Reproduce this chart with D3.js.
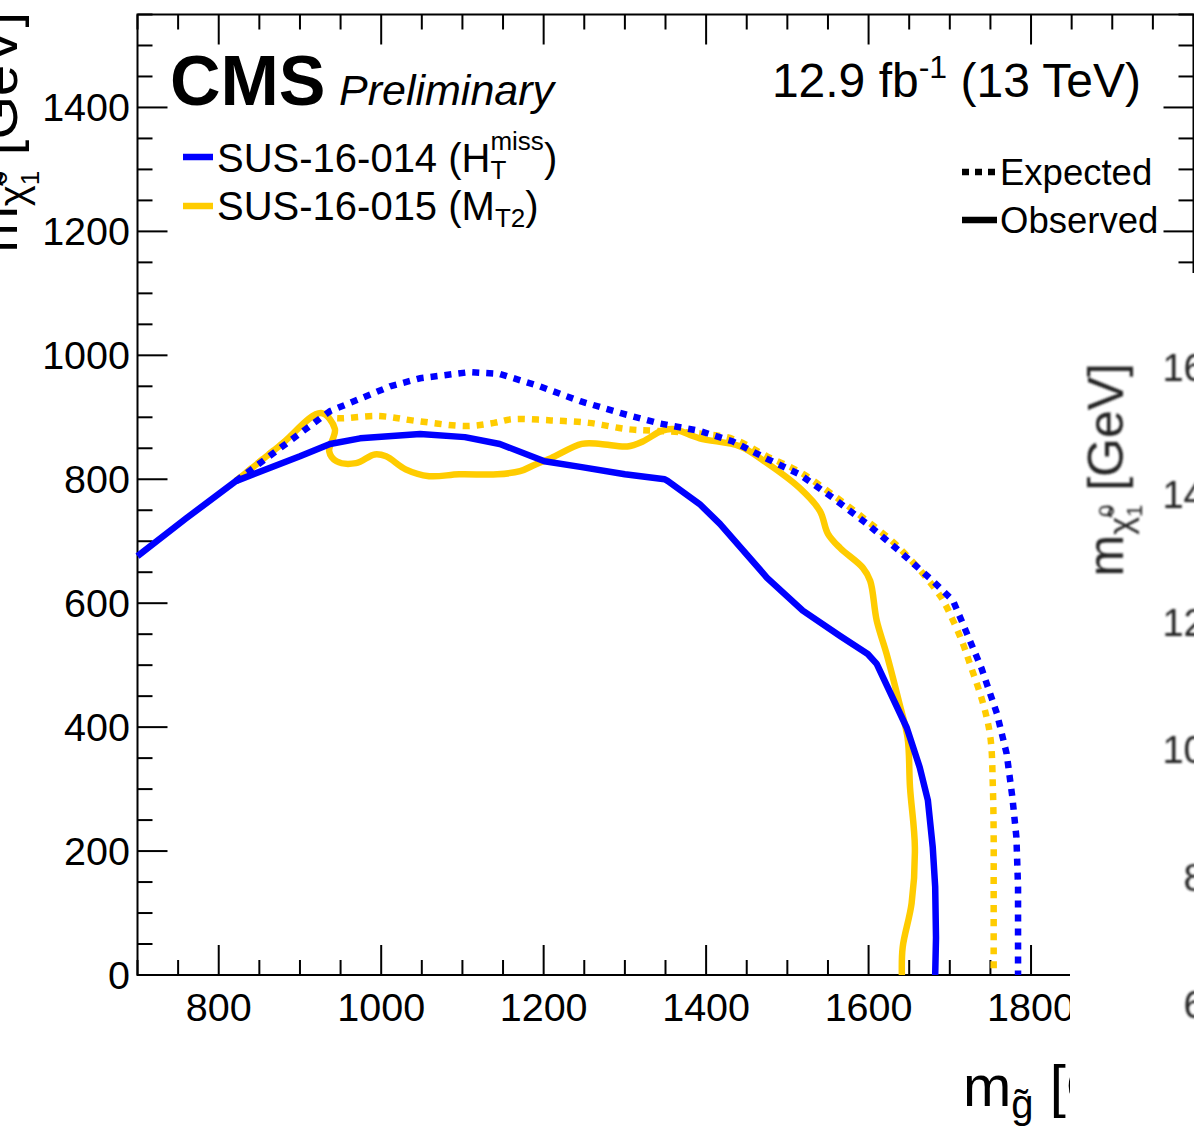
<!DOCTYPE html>
<html>
<head>
<meta charset="utf-8">
<script src="https://cdn.jsdelivr.net/npm/d3@7"></script>
<style>
  html, body { margin: 0; padding: 0; background: #fff; }
  svg { display: block; }
  svg text { white-space: pre; }
</style>
</head>
<body>
<svg id="chart" width="1194" height="1128"></svg>
<script>
// Gluino mass vs LSP mass exclusion contours (T1qqqq-like interpretation)

// axis ranges and tick labels
const massRange = [700, 2000];
const lspRange = [0, 1550];
const xTickLabels = [800, 1000, 1200, 1400, 1600, 1800];
const yTickLabels = [0, 200, 400, 600, 800, 1000, 1200, 1400];
const insetTickLabels = [1600, 1400, 1200, 1000, 800, 600];

// SUS-16-014 (H_T^miss) contours: [gluino mass, LSP mass] in GeV
const sus014Observed = [
  [700, 676], [760, 737], [821, 797], [900, 837], [937, 857], [974, 866],
  [1048, 873], [1103, 868], [1146, 857], [1201, 829], [1245, 820],
  [1300, 808], [1349, 800], [1353, 797], [1392, 760], [1417, 728],
  [1475, 641], [1519, 588], [1565, 547], [1599, 518], [1610, 502],
  [1647, 399], [1663, 335], [1673, 282], [1679, 206], [1682, 142],
  [1683, 60], [1682, 0]
];
const sus014Expected = [
  [821, 797], [937, 910], [1011, 950], [1048, 963], [1109, 973],
  [1146, 970], [1195, 950], [1245, 926], [1294, 907], [1343, 890],
  [1392, 878], [1433, 861], [1475, 833], [1515, 808], [1556, 770],
  [1598, 728], [1638, 684], [1679, 636], [1704, 604], [1716, 567],
  [1739, 495], [1758, 422], [1770, 357], [1777, 287], [1782, 222],
  [1784, 142], [1784, 0]
];

// SUS-16-015 (M_T2) contours
const sus015Observed = [
  [821, 797], [875, 854], [926, 907], [943, 881], [936, 845], [945, 829],
  [969, 826], [992, 840], [1006, 837], [1030, 816], [1059, 805],
  [1096, 808], [1143, 808], [1171, 813], [1190, 824], [1209, 834],
  [1247, 857], [1270, 857], [1303, 853], [1322, 861], [1345, 878],
  [1359, 881], [1392, 866], [1442, 853], [1475, 826], [1515, 786],
  [1540, 749], [1550, 712], [1565, 689], [1593, 657], [1602, 636],
  [1610, 572], [1622, 519], [1638, 438], [1648, 383], [1651, 303],
  [1657, 206], [1653, 116], [1642, 45], [1641, 0]
];
const sus015Expected = [
  [821, 797], [875, 854], [928, 906], [941, 899], [997, 902], [1044, 894],
  [1105, 886], [1139, 891], [1162, 897], [1209, 895], [1256, 891],
  [1302, 881], [1340, 878], [1392, 874], [1433, 865], [1475, 837],
  [1515, 812], [1556, 775], [1598, 733], [1638, 689], [1688, 612],
  [1704, 572], [1716, 535], [1724, 505], [1741, 438], [1750, 383],
  [1753, 303], [1754, 222], [1754, 142], [1754, 0]
];

const analyses = ["SUS-16-014", "SUS-16-015"];
const limitTypes = ["Expected", "Observed"];

const BLUE = "#0000ff";
const YELLOW = "#ffcc00";
const FONT = "'Liberation Sans', Arial, Helvetica, sans-serif";

const svg = d3.select("#chart");

const x = d3.scaleLinear().domain(massRange).range([137.5, 1193.5]);
const y = d3.scaleLinear().domain(lspRange).range([975, 14.5]);

// lays out a run of text pieces (with sub/superscripts) left to right
function richText(parent, parts, opt) {
  const g = parent.append("g")
    .attr("transform", `translate(${opt.x},${opt.y}) rotate(${opt.rotate || 0})`);
  const inner = g.append("g");
  let cursor = 0, lastStart = 0;
  parts.forEach(p => {
    const t = inner.append("text")
      .attr("xml:space", "preserve")
      .attr("font-family", FONT)
      .attr("font-size", p.size || opt.size)
      .attr("font-weight", p.weight || opt.weight || "normal")
      .attr("font-style", p.style || opt.style || "normal")
      .attr("fill", opt.fill || "#000")
      .attr("y", p.dy || 0)
      .text(p.text);
    const w = t.node().getComputedTextLength();
    if (p.stack) {
      t.attr("x", lastStart);
      cursor = Math.max(cursor, lastStart + w);
    } else {
      t.attr("x", cursor);
      lastStart = cursor;
      cursor += w;
    }
  });
  if (opt.anchor === "end") inner.attr("transform", `translate(${-cursor},0)`);
  if (opt.anchor === "middle") inner.attr("transform", `translate(${-cursor / 2},0)`);
  return g;
}

// ---- main frame ----
const plot = svg.append("g");

plot.append("rect")
  .attr("x", x.range()[0]).attr("y", y.range()[1])
  .attr("width", x.range()[1] - x.range()[0])
  .attr("height", y.range()[0] - y.range()[1])
  .attr("fill", "none").attr("stroke", "#000").attr("stroke-width", 2);

const xTicks = d3.range(massRange[0], massRange[1] + 1, 50);
const yTicks = d3.range(lspRange[0], lspRange[1] + 1, 50);
const isMajor = v => v % 200 === 0;

const tickG = plot.append("g").attr("stroke", "#000").attr("stroke-width", 2);
xTicks.forEach(v => {
  const len = isMajor(v) ? 30 : 15;
  tickG.append("line").attr("x1", x(v)).attr("x2", x(v))
    .attr("y1", y(0)).attr("y2", y(0) - len);
  tickG.append("line").attr("x1", x(v)).attr("x2", x(v))
    .attr("y1", y.range()[1]).attr("y2", y.range()[1] + len);
});
yTicks.forEach(v => {
  const len = isMajor(v) ? 30 : 15;
  tickG.append("line").attr("x1", x.range()[0]).attr("x2", x.range()[0] + len)
    .attr("y1", y(v)).attr("y2", y(v));
  tickG.append("line").attr("x1", x.range()[1]).attr("x2", x.range()[1] - len)
    .attr("y1", y(v)).attr("y2", y(v));
});

// tick labels
plot.append("g").selectAll("text").data(xTickLabels).join("text")
  .attr("x", d => x(d)).attr("y", 1021)
  .attr("text-anchor", "middle")
  .attr("font-family", FONT).attr("font-size", 39.5)
  .text(d => d);
plot.append("g").selectAll("text").data(yTickLabels).join("text")
  .attr("x", 130).attr("y", d => y(d) + 14)
  .attr("text-anchor", "end")
  .attr("font-family", FONT).attr("font-size", 39.5)
  .text(d => d);

// ---- contours ----
const lineLinear = d3.line().x(d => x(d[0])).y(d => y(d[1]));
const lineSmooth = d3.line().x(d => x(d[0])).y(d => y(d[1]))
  .curve(d3.curveCatmullRom.alpha(0.5));

const curves = plot.append("g").attr("fill", "none").attr("stroke-width", 6.5);
curves.append("path").attr("d", lineSmooth(sus015Expected))
  .attr("stroke", YELLOW).attr("stroke-dasharray", "7 7");
curves.append("path").attr("d", lineSmooth(sus015Observed))
  .attr("stroke", YELLOW).attr("stroke-linejoin", "round");
curves.append("path").attr("d", lineLinear(sus014Expected))
  .attr("stroke", BLUE).attr("stroke-dasharray", "7 7");
curves.append("path").attr("d", lineLinear(sus014Observed))
  .attr("stroke", BLUE).attr("stroke-linejoin", "round");

// ---- labels ----
plot.append("text").attr("x", 170).attr("y", 105)
  .attr("font-family", FONT).attr("font-size", 70).attr("font-weight", "bold")
  .text("CMS");
plot.append("text").attr("x", 339).attr("y", 105)
  .attr("font-family", FONT).attr("font-size", 43).attr("font-style", "italic")
  .text("Preliminary");

richText(plot, [
  { text: "12.9 fb" },
  { text: "-1", size: 32, dy: -19 },
  { text: " (13 TeV)" }
], { x: 1141, y: 97, size: 48, anchor: "end" });

// analysis legend
const legendColors = [BLUE, YELLOW];
const legendY = [157, 206];
legendColors.forEach((c, i) => {
  plot.append("line").attr("x1", 183).attr("x2", 213)
    .attr("y1", legendY[i]).attr("y2", legendY[i])
    .attr("stroke", c).attr("stroke-width", 6.5);
});
richText(plot, [
  { text: analyses[0] + " (H" },
  { text: "miss", size: 26, dy: -22 },
  { text: "T", size: 26, dy: 7, stack: true },
  { text: ")" }
], { x: 217, y: 172, size: 40 });
richText(plot, [
  { text: analyses[1] + " (M" },
  { text: "T2", size: 26, dy: 7 },
  { text: ")" }
], { x: 217, y: 220, size: 40 });

// limit type legend
plot.append("line").attr("x1", 962).attr("x2", 997).attr("y1", 172).attr("y2", 172)
  .attr("stroke", "#000").attr("stroke-width", 6.5).attr("stroke-dasharray", "7 6");
plot.append("line").attr("x1", 962).attr("x2", 997).attr("y1", 220).attr("y2", 220)
  .attr("stroke", "#000").attr("stroke-width", 6.5);
plot.append("text").attr("x", 1000).attr("y", 185)
  .attr("font-family", FONT).attr("font-size", 36.5).text(limitTypes[0]);
plot.append("text").attr("x", 1000).attr("y", 233)
  .attr("font-family", FONT).attr("font-size", 36.5).text(limitTypes[1]);

// axis titles
richText(plot, [
  { text: "m" },
  { text: "g\u0303", size: 40, dy: 12 },
  { text: " [GeV]" }
], { x: 963, y: 1106, size: 58 });

richText(plot, [
  { text: "m" },
  { text: "\u03c7\u0303", size: 40, dy: 10 },
  { text: "0", size: 26, dy: -10 },
  { text: "1", size: 26, dy: 22, stack: true },
  { text: " [GeV]" }
], { x: 17, y: 12, size: 56, rotate: -90, anchor: "end" });

// ---- neighbouring panel, partly visible at the right edge ----
svg.append("rect").attr("x", 1070).attr("y", 273)
  .attr("width", 124).attr("height", 855).attr("fill", "#fff");

const defs = svg.append("defs");
defs.append("filter").attr("id", "soft")
  .append("feGaussianBlur").attr("stdDeviation", 1.1);

const side = svg.append("g").attr("filter", "url(#soft)").attr("fill", "#222");
const yInset = d3.scaleLinear().domain([600, 1600]).range([1005, 368]);
side.selectAll("text.tick").data(insetTickLabels).join("text")
  .attr("class", "tick")
  .attr("x", 1247).attr("y", d => yInset(d) + 13)
  .attr("text-anchor", "end")
  .attr("font-family", FONT).attr("font-size", 38)
  .attr("fill", "#222")
  .text(d => d);
richText(side, [
  { text: "m" },
  { text: "\u03c7\u0303", size: 34, dy: 9 },
  { text: "0", size: 22, dy: -9 },
  { text: "1", size: 22, dy: 19, stack: true },
  { text: " [GeV]" }
], { x: 1123, y: 363, size: 50, rotate: -90, anchor: "end", fill: "#222" });
</script>
</body>
</html>
